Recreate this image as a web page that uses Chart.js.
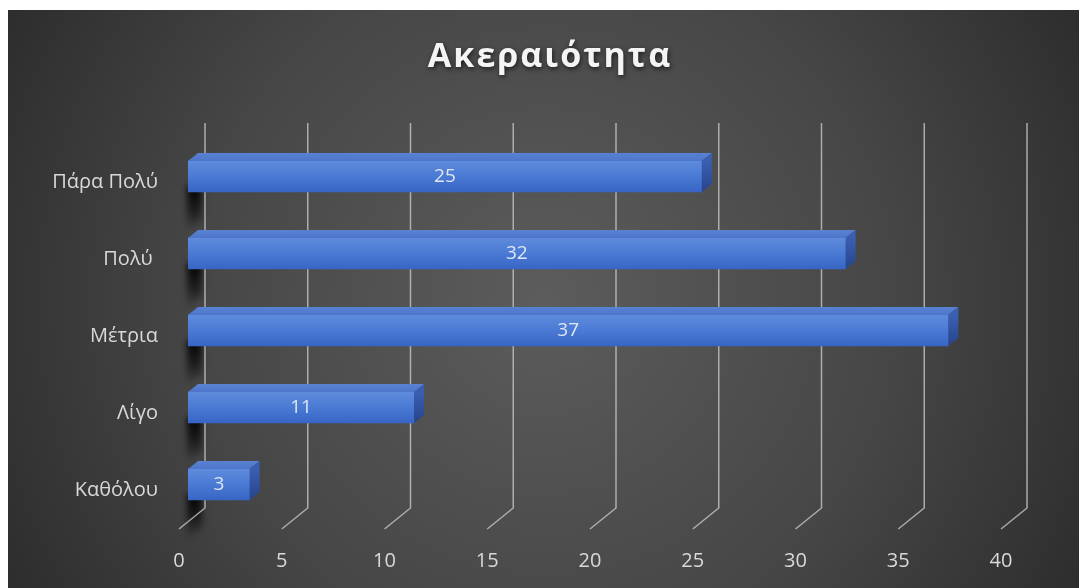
<!DOCTYPE html>
<html>
<head>
<meta charset="utf-8">
<script src="https://cdn.jsdelivr.net/npm/chart.js@4.4.1/dist/chart.umd.min.js"></script>
<style>
  html, body { margin: 0; padding: 0; background: #ffffff; }
  #wrap { position: relative; width: 1079px; height: 588px; }
  canvas { display: block; }
</style>
</head>
<body>
<div id="wrap"><canvas id="c" width="1079" height="588"></canvas></div>
<script>
const titleText = 'Ακεραιότητα';
const categories = ['Πάρα Πολύ', 'Πολύ ', 'Μέτρια', 'Λίγο', 'Καθόλου'];
const values = [25, 32, 37, 11, 3];
const xMin = 0;
const xMax = 40;
const xStep = 5;

const FONT = "'Open Sans', 'Noto Sans', sans-serif";
const DEPTH_X = 10, DEPTH_Y = 8;
const TITLE_SHIFT_X = 45;

const bgPlugin = {
  id: 'bg',
  beforeDraw(chart) {
    const c = chart.ctx;
    c.save();
    c.fillStyle = '#ffffff';
    c.fillRect(0, 0, chart.width, chart.height);
    const g = c.createRadialGradient(545, 300, 0, 545, 300, 640);
    g.addColorStop(0, '#5c5c5c');
    g.addColorStop(0.55, '#464646');
    g.addColorStop(1, '#2a2a2a');
    c.fillStyle = g;
    c.fillRect(8, 10, chart.width - 8, chart.height - 10);
    c.restore();
    // wrap title drawing for letter spacing + shadow + centering
    const tb = chart.titleBlock;
    if (tb && !tb._wrapped) {
      const orig = tb.draw.bind(tb);
      tb.draw = function () {
        const ctx = this.ctx;
        ctx.save();
        ctx.translate(TITLE_SHIFT_X, 0);
        try { ctx.letterSpacing = '2px'; } catch (e) {}
        ctx.shadowColor = 'rgba(0,0,0,0.65)';
        ctx.shadowBlur = 5;
        ctx.shadowOffsetX = 1;
        ctx.shadowOffsetY = 2;
        orig();
        ctx.restore();
      };
      tb._wrapped = true;
    }
  }
};

const gridPlugin = {
  id: 'grid3d',
  beforeDatasetsDraw(chart) {
    const c = chart.ctx;
    const xs = chart.scales.x;
    const area = chart.chartArea;
    const topY = area.top - 15;
    const backBottom = area.bottom - 15;
    const frontBottom = area.bottom + 6;
    c.save();
    // bar shadows on the side wall (soft)
    const x0 = xs.getPixelForValue(0);
    const meta = chart.getDatasetMeta(0);
    c.filter = 'blur(3px)';
    meta.data.forEach((bar) => {
      const p = bar.getProps(['y', 'height'], true);
      const b = p.y + p.height / 2;
      const vg = c.createLinearGradient(0, b - 6, 0, b + 40);
      vg.addColorStop(0, 'rgba(0,0,0,0.95)');
      vg.addColorStop(0.5, 'rgba(0,0,0,0.6)');
      vg.addColorStop(1, 'rgba(0,0,0,0)');
      c.fillStyle = vg;
      c.beginPath();
      c.moveTo(x0 - 1, b - 6);
      c.lineTo(x0 + 14, b - 6);
      c.lineTo(x0 + 14, b + 28);
      c.lineTo(x0 - 1, b + 40);
      c.closePath();
      c.fill();
    });
    c.filter = 'none';
    c.strokeStyle = 'rgba(190,190,190,0.85)';
    c.lineWidth = 1.5;
    for (let v = xMin; v <= xMax; v += xStep) {
      const px = xs.getPixelForValue(v);
      const back = px + 17;
      const front = px - 9;
      c.beginPath();
      c.moveTo(back, topY);
      c.lineTo(back, backBottom);
      c.lineTo(front, frontBottom);
      c.stroke();
    }
    c.restore();
  }
};

const bar3dPlugin = {
  id: 'bar3d',
  afterDatasetsDraw(chart) {
    const c = chart.ctx;
    const meta = chart.getDatasetMeta(0);
    c.save();
    meta.data.forEach((bar, i) => {
      const p = bar.getProps(['x', 'y', 'base', 'height'], true);
      const t = p.y - p.height / 2, b = p.y + p.height / 2;
      // top face
      const tg = c.createLinearGradient(0, t - DEPTH_Y, 0, t);
      tg.addColorStop(0, '#5a82d2');
      tg.addColorStop(1, '#4d76cb');
      c.fillStyle = tg;
      c.beginPath();
      c.moveTo(p.base, t);
      c.lineTo(p.x, t);
      c.lineTo(p.x + DEPTH_X, t - DEPTH_Y);
      c.lineTo(p.base + DEPTH_X, t - DEPTH_Y);
      c.closePath();
      c.fill();
      // right face
      const rg = c.createLinearGradient(0, t, 0, b);
      rg.addColorStop(0, '#3a5fb2');
      rg.addColorStop(1, '#27448c');
      c.fillStyle = rg;
      c.beginPath();
      c.moveTo(p.x, t);
      c.lineTo(p.x + DEPTH_X, t - DEPTH_Y);
      c.lineTo(p.x + DEPTH_X, b - DEPTH_Y);
      c.lineTo(p.x, b);
      c.closePath();
      c.fill();
      // value label
      c.fillStyle = '#dfe6f4';
      c.font = "19px " + FONT;
      c.textAlign = 'center';
      c.textBaseline = 'middle';
      c.fillText(String(values[i]), (p.base + p.x) / 2, p.y);
    });
    c.restore();
  }
};

const ctx = document.getElementById('c').getContext('2d');
new Chart(ctx, {
  type: 'bar',
  data: {
    labels: categories,
    datasets: [{
      data: values,
      barThickness: 31,
      borderWidth: 0,
      backgroundColor: (context) => {
        const chart = context.chart;
        if (!chart.chartArea || !chart.scales.y) return '#4a78d2';
        const y = chart.scales.y.getPixelForValue(context.dataIndex);
        const g = chart.ctx.createLinearGradient(0, y - 15.5, 0, y + 15.5);
        g.addColorStop(0, '#5f8bdc');
        g.addColorStop(0.5, '#4a7ad4');
        g.addColorStop(1, '#3865c4');
        return g;
      }
    }]
  },
  options: {
    indexAxis: 'y',
    responsive: false,
    animation: false,
    events: [],
    layout: { padding: { left: 0, right: 69, top: 0, bottom: 0 } },
    plugins: {
      legend: { display: false },
      tooltip: { enabled: false },
      title: {
        display: true,
        text: titleText,
        color: '#f4f4f4',
        font: { family: FONT, size: 34, weight: 'bold', lineHeight: 1.25 },
        padding: { top: 36, bottom: 59.5 }
      }
    },
    scales: {
      x: {
        min: xMin,
        max: xMax,
        grid: { display: false, drawTicks: false },
        border: { display: false },
        ticks: {
          stepSize: xStep,
          color: '#d9d9d9',
          font: { family: FONT, size: 20 },
          padding: 26,
          labelOffset: -9
        },
        afterFit(scale) { scale.height = 65; }
      },
      y: {
        grid: { display: false, drawTicks: false },
        border: { display: false },
        ticks: {
          color: '#d9d9d9',
          font: { family: FONT, size: 20 },
          padding: 30,
          labelOffset: 6
        },
        afterFit(scale) { scale.width = 188; }
      }
    }
  },
  plugins: [bgPlugin, gridPlugin, bar3dPlugin]
});
</script>
</body>
</html>
